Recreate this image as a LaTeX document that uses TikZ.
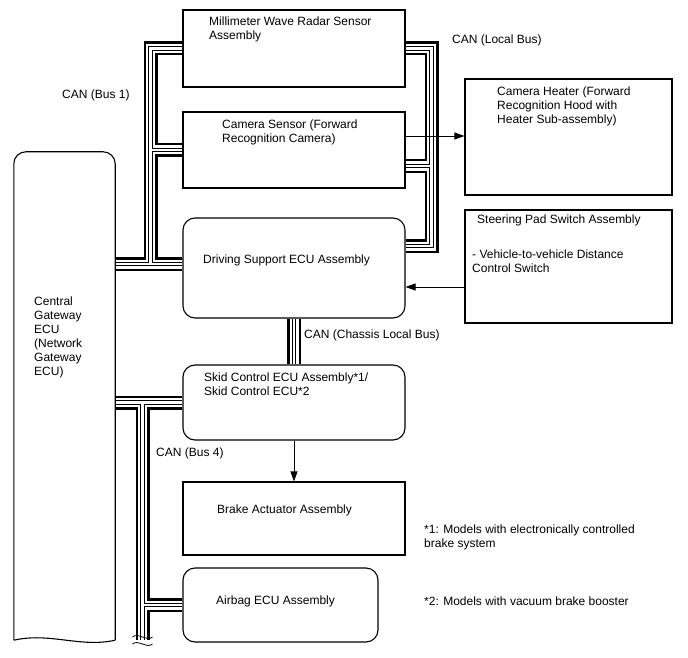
\documentclass[tikz,border=0pt]{standalone}
\usepackage{fontspec}
\setmainfont{Liberation Sans}
\usetikzlibrary{positioning,arrows.meta,calc,backgrounds}
\tikzset{
  bloc/.style       = {draw, line width=1.1pt, fill=white, inner sep=0pt},
  blocrotund/.style = {bloc, rounded corners=12pt},
  eticheta/.style   = {font=\fontsize{12}{14}\selectfont, align=left, inner sep=0pt, anchor=north west},
  sageata/.style    = {-{Triangle[length=10pt,width=7pt]}, line width=0.9pt}
}
% magistrala CAN: patru treceri, ca ramificatiile sa se imbine
\newcommand{\magistrala}[1]{%
  \draw[line width=14pt] #1;
  \draw[line width=9pt, white] #1;
  \draw[line width=4.6pt] #1;
  \draw[line width=2.4pt, white] #1;}

\begin{document}
\begin{tikzpicture}[x=1pt, y=-1pt]
    \useasboundingbox (0,0) rectangle (688,658);

    \node[bloc, minimum width=222pt, minimum height=77pt] (radar) at (294,48.5) {};
    \node[bloc, minimum width=222pt, minimum height=76pt] (camera) at (294,150) {};
    \node[blocrotund, minimum width=222pt, minimum height=100pt] (asistare) at (294,268) {};
    \node[bloc, minimum width=207pt, minimum height=116pt] (incalzire) at (568.5,137) {};
    \node[bloc, minimum width=207pt, minimum height=113pt] (volan) at (568.5,266.5) {};
    \node[blocrotund, minimum width=222pt, minimum height=75pt] (abs) at (294,402.5) {};
    \node[bloc, minimum width=222pt, minimum height=73pt] (frana) at (294,518.5) {};
    \node[blocrotund, minimum width=195pt, minimum height=74pt] (airbag) at (280.5,605) {};
    \node[minimum width=101pt, minimum height=488pt, inner sep=0pt] (poarta) at (64.5,396) {};
    \draw[line width=1.1pt, rounded corners=12pt] (poarta.south west) -- (poarta.north west)
        -- (poarta.north east) -- (poarta.south east);
    \draw[line width=1.1pt] (poarta.south east) .. controls (80,648) and (50,632) .. (poarta.south west);

    \node[eticheta] at (209,16.5) {Millimeter Wave Radar Sensor\\Assembly};
    \node[eticheta] at (222,119.5) {Camera Sensor (Forward\\Recognition Camera)};
    \node[eticheta] at (203,255) {Driving Support ECU Assembly};
    \node[eticheta] at (497,86.5) {Camera Heater (Forward\\Recognition Hood with\\Heater Sub-assembly)};
    \node[eticheta] at (477,214.5) {Steering Pad Switch Assembly};
    \node[eticheta] at (472,250) {- Vehicle-to-vehicle Distance\\Control Switch};
    \node[eticheta] at (34,296.5) {Central\\Gateway\\ECU\\(Network\\Gateway\\ECU)};
    \node[eticheta] at (204,372.5) {Skid Control ECU Assembly*1/\\Skid Control ECU*2};
    \node[eticheta] at (217,505) {Brake Actuator Assembly};
    \node[eticheta] at (216,596) {Airbag ECU Assembly};

    \node[eticheta] at (62,90) {CAN (Bus 1)};
    \node[eticheta] at (452,35) {CAN (Local Bus)};
    \node[eticheta] at (304,330) {CAN (Chassis Local Bus)};
    \node[eticheta] at (156,447.5) {CAN (Bus 4)};
    \node[eticheta] at (424,525) {*1: Models with electronically controlled\\brake system};
    \node[eticheta] at (424,597) {*2: Models with vacuum brake booster};

    \coordinate (b1) at (150.5,264);
    \coordinate (b2) at (431.5,246);
    \coordinate (c2) at (431.5,166);
    \coordinate (b4) at (142.5,402.5);
    \coordinate (capat) at (142.5,640);

    \begin{scope}[on background layer]
        \magistrala{(poarta.east |- b1) -- (asistare.west |- b1)
            (b1) -- (b1 |- radar.west) -- (radar.west)
            (b1 |- camera.west) -- (camera.west)}
        \magistrala{(radar.east) -- (radar.east -| b2) -- (b2) -- (asistare.east |- b2)
            (c2) -- (camera.east |- c2)}
        \magistrala{(asistare.south) -- (abs.north)}
        \magistrala{(poarta.east |- b4) -- (abs.west |- b4)
            (b4) -- (capat)
            (b4 |- airbag.west) -- (airbag.west)}
    \end{scope}

    % intrerupere
    \draw[line width=0.8pt] ([shift={(-10,-3)}]capat) .. controls +(5,-5) and +(-5,5) .. ([shift={(10,-3)}]capat);
    \draw[line width=0.8pt] ([shift={(-10,4)}]capat) .. controls +(5,-5) and +(-5,5) .. ([shift={(10,4)}]capat);

    \draw[sageata] ([yshift=14pt]camera.east) coordinate (s1) -- (s1 -| incalzire.west);
    \draw[sageata] ([yshift=-20.5pt]volan.west) coordinate (s2) -- (s2 -| asistare.east);
    \draw[sageata] (abs.south) -- (frana.north);
\end{tikzpicture}
\end{document}
